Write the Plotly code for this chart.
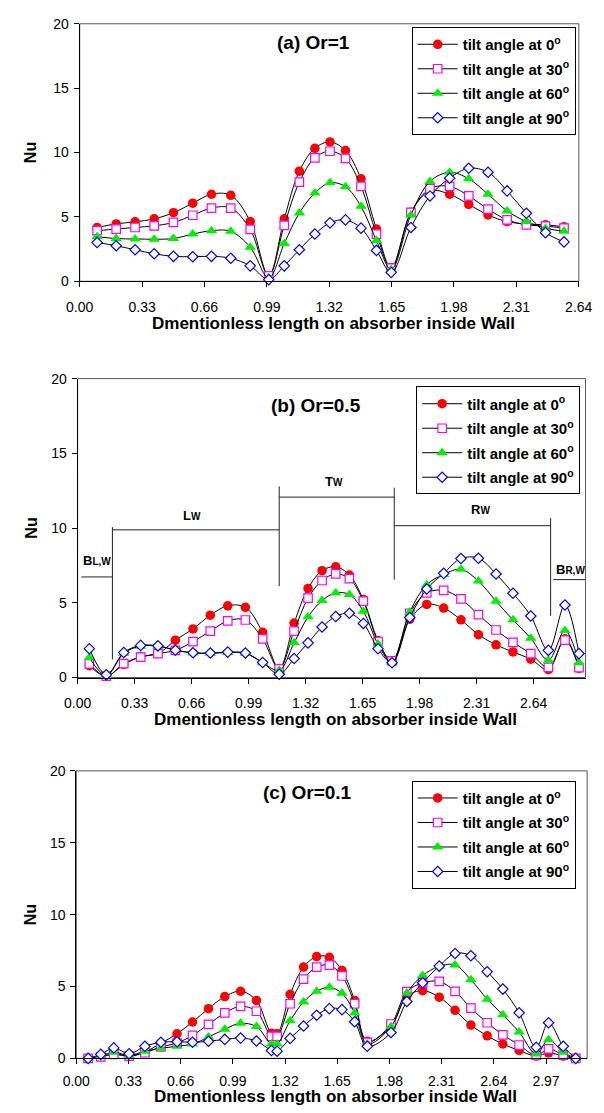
import plotly.graph_objects as go

# ---------------- data ----------------
tick_vals_a = [0, 0.33, 0.66, 0.99, 1.32, 1.65, 1.98, 2.31, 2.64]
tick_text_a = ["0.00", "0.33", "0.66", "0.99", "1.32", "1.65", "1.98", "2.31", "2.64"]
tick_vals_c = [0, 0.33, 0.66, 0.99, 1.32, 1.65, 1.98, 2.31, 2.64, 2.97]
tick_text_c = ["0.00", "0.33", "0.66", "0.99", "1.32", "1.65", "1.98", "2.31", "2.64", "2.97"]
y_ticks = [0, 5, 10, 15, 20]

series_names = ["tilt angle at 0<sup>o</sup>", "tilt angle at 30<sup>o</sup>",
                "tilt angle at 60<sup>o</sup>", "tilt angle at 90<sup>o</sup>"]

# (a) Or=1
x_a = [0.092, 0.193, 0.293, 0.394, 0.496, 0.598, 0.697, 0.799, 0.902, 1.0,
       1.082, 1.162, 1.244, 1.324, 1.406, 1.488, 1.57, 1.648,
       1.752, 1.853, 1.957, 2.058, 2.16, 2.261, 2.363, 2.464, 2.562]
a_0 = [4.18, 4.46, 4.62, 4.85, 5.33, 6.07, 6.76, 6.68, 4.64, 0.43,
       4.85, 8.55, 10.33, 10.82, 10.15, 7.96, 4.06, 1.07,
       5.36, 7.02, 6.76, 5.97, 5.15, 4.64, 4.45, 4.39, 4.23]
a_30 = [3.93, 4.06, 4.18, 4.31, 4.57, 5.13, 5.69, 5.69, 4.03, 0.43,
        4.34, 7.70, 9.59, 10.1, 9.54, 7.37, 3.67, 1.02,
        5.36, 7.19, 7.37, 6.63, 5.61, 4.77, 4.39, 4.29, 4.13]
a_60 = [3.47, 3.32, 3.29, 3.27, 3.32, 3.67, 3.93, 3.88, 2.65, 0.26,
        2.93, 5.31, 6.86, 7.65, 7.35, 5.82, 3.16, 0.92,
        5.15, 7.76, 8.47, 7.96, 6.76, 5.46, 4.64, 4.13, 3.88]
a_90 = [3.01, 2.76, 2.45, 2.14, 1.94, 1.91, 1.94, 1.79, 1.2, 0.13,
        1.2, 2.45, 3.67, 4.54, 4.77, 4.13, 2.40, 0.69,
        4.18, 6.63, 8.01, 8.78, 8.47, 7.02, 5.28, 3.78, 3.06]

# (b) Or=0.5
x_b = [0.068, 0.166, 0.267, 0.365, 0.465, 0.566, 0.668, 0.768, 0.869, 0.971, 1.071,
       1.167, 1.253, 1.334, 1.415, 1.494, 1.573, 1.654, 1.739, 1.82,
       1.923, 2.021, 2.119, 2.219, 2.32, 2.422, 2.52, 2.623, 2.725, 2.821, 2.902]
b_0 = [0.79, 0.09, 0.88, 1.4, 1.6, 2.5, 3.25, 4.17, 4.8, 4.7, 3.03,
       0.61, 3.64, 5.96, 7.15, 7.41, 6.86, 5.22, 2.48, 1.1,
       3.9, 4.89, 4.65, 3.86, 2.87, 2.19, 1.71, 1.23, 0.53, 2.59, 0.61]
b_30 = [0.92, 0.09, 0.93, 1.36, 1.6, 1.82, 2.4, 3.1, 3.79, 3.85, 2.59,
        0.57, 3.11, 5.31, 6.49, 6.93, 6.62, 5.11, 2.41, 1.12,
        4.3, 5.66, 5.83, 5.26, 4.21, 3.18, 2.35, 1.6, 0.68, 2.5, 0.66]
b_60 = [1.34, 0.13, 1.62, 2.1, 2.1, 1.84, 1.64, 1.62, 1.67, 1.62, 0.99,
        0.48, 2.32, 4.06, 5.15, 5.66, 5.55, 4.43, 2.24, 1.01,
        4.39, 6.21, 6.9, 7.24, 6.45, 5.11, 3.86, 2.63, 1.16, 3.14, 0.99]
b_90 = [1.93, 0.18, 1.67, 2.15, 2.12, 1.83, 1.66, 1.64, 1.7, 1.64, 1.01,
        0.22, 1.27, 2.32, 3.38, 4.08, 4.3, 3.62, 1.93, 0.99,
        4.01, 5.92, 6.97, 7.96, 7.98, 6.93, 5.64, 4.12, 1.82, 4.85, 1.6]

# (c) Or=0.1
x_c = [0.075, 0.155, 0.237, 0.334, 0.434, 0.535, 0.637, 0.735, 0.836, 0.939, 1.039, 1.139, 1.234,
       1.27, 1.352, 1.437, 1.52, 1.6, 1.68, 1.76, 1.84,
       1.99, 2.09, 2.19, 2.295, 2.395, 2.495, 2.598, 2.697, 2.8,
       2.908, 2.986, 3.079, 3.158]
c_0 = [0.0, 0.11, 0.34, 0.16, 0.45, 1.05, 1.71, 2.53, 3.46, 4.3, 4.67, 4.03, 1.75,
       1.72, 4.46, 6.35, 7.08, 7.03, 6.12, 4.03, 1.2,
       2.25, 4.32, 4.71, 4.26, 3.34, 2.32, 1.57, 1.0, 0.55,
       0.16, 0.39, 0.16, 0.0]
c_30 = [0.0, 0.11, 0.27, 0.16, 0.39, 0.8, 1.07, 1.6, 2.37, 3.16, 3.62, 3.28, 1.53,
        1.53, 3.8, 5.51, 6.35, 6.48, 5.73, 3.8, 1.12,
        2.39, 4.64, 5.25, 5.35, 4.66, 3.5, 2.48, 1.64, 0.93,
        0.2, 0.66, 0.23, 0.0]
c_60 = [0.0, 0.16, 0.43, 0.2, 0.5, 0.7, 0.84, 1.0, 1.48, 2.03, 2.44, 2.21, 1.0,
        1.0, 2.62, 3.92, 4.67, 4.94, 4.53, 3.16, 1.0,
        2.21, 4.55, 5.76, 6.4, 6.5, 5.47, 4.12, 3.03, 1.83,
        0.3, 1.3, 0.42, 0.0]
c_90 = [0.0, 0.28, 0.73, 0.32, 0.84, 1.12, 1.16, 1.12, 1.19, 1.32, 1.41, 1.21, 0.55,
        0.5, 1.39, 2.25, 3.0, 3.46, 3.39, 2.55, 0.84,
        1.8, 3.96, 5.26, 6.42, 7.3, 7.14, 6.03, 4.82, 3.17,
        0.77, 2.48, 0.84, 0.0]

# ---------------- styling ----------------
W, H = 604, 1113
FONT = "Arial, Liberation Sans, sans-serif"

def px(x):
    return x / W

def py(y):
    return 1 - y / H

marker_styles = [
    dict(symbol="circle", size=9.5, color="#FF0000", line=dict(width=0)),
    dict(symbol="square", size=8.5, color="white", line=dict(color="#FF00FF", width=1.2)),
    dict(symbol="triangle-up", size=10, color="#00EE00", line=dict(width=0)),
    dict(symbol="diamond", size=8, color="white", line=dict(color="#0000FF", width=1.2)),
]

fig = go.Figure()

panels = [
    (x_a, [a_0, a_30, a_60, a_90], "x", "y", "legend"),
    (x_b, [b_0, b_30, b_60, b_90], "x2", "y2", "legend2"),
    (x_c, [c_0, c_30, c_60, c_90], "x3", "y3", "legend3"),
]
for xs, ys_list, xa, ya, lg in panels:
    for i, ys in enumerate(ys_list):
        fig.add_trace(go.Scatter(
            x=xs, y=ys, mode="lines+markers", name=series_names[i],
            xaxis=xa, yaxis=ya, legend=lg, legendgroup=lg + str(i),
            line=dict(color="black", width=1, shape="spline", smoothing=1.0),
            marker=marker_styles[i], cliponaxis=False,
        ))

# panel geometry in pixels: (left, right, top, bottom)
geo = {
    "a": (68.9, 592.3, 16.0, 277.3),
    "b": (66.7, 599.3, 376.0, 679.3),
    "c": (65.3, 601.0, 774.0, 1065.7),
}

def xaxis_cfg(g, rng, tv, tt, anchor, standoff):
    return dict(domain=[px(g[0]), px(g[1])], range=rng, tickvals=tv, ticktext=tt,
                ticks="outside", ticklen=5, tickcolor="black", showgrid=False,
                zeroline=False, showline=True, linecolor="black", linewidth=1,
                ticklabelstandoff=standoff, ticklabeloverflow="allow",
                tickfont=dict(family=FONT, size=14, color="black"), anchor=anchor)

def yaxis_cfg(g, anchor):
    return dict(domain=[py(g[3]), py(g[2])], range=[0, 20], tickvals=y_ticks,
                ticks="outside", ticklen=5, tickcolor="black", showgrid=False,
                zeroline=False, showline=True, linecolor="black", linewidth=1,
                ticklabelstandoff=2,
                tickfont=dict(family=FONT, size=14, color="black"), anchor=anchor)

fig.update_layout(
    width=W, height=H, margin=dict(l=0, r=0, t=0, b=0),
    paper_bgcolor="white", plot_bgcolor="white",
    font=dict(family=FONT, color="black"),
    xaxis=xaxis_cfg(geo["a"], [0, 2.6405], tick_vals_a, tick_text_a, "y", 8),
    yaxis=yaxis_cfg(geo["a"], "x"),
    xaxis2=xaxis_cfg(geo["b"], [0, 2.94], tick_vals_a, tick_text_a, "y2", 8),
    yaxis2=yaxis_cfg(geo["b"], "x2"),
    xaxis3=xaxis_cfg(geo["c"], [0, 3.23], tick_vals_c, tick_text_c, "y3", 5),
    yaxis3=yaxis_cfg(geo["c"], "x3"),
)

legend_common = dict(bgcolor="white", bordercolor="black", borderwidth=1,
                     font=dict(family=FONT, size=15, color="black", weight="bold"),
                     xanchor="left", yanchor="top", tracegroupgap=2,
                     traceorder="grouped", itemwidth=40)
fig.update_layout(
    legend=dict(x=px(417), y=py(19.3), **legend_common),
    legend2=dict(x=px(421.7), y=py(384), **legend_common),
    legend3=dict(x=px(417), y=py(784), **legend_common),
)

# border rectangles (top/right in gray)
shapes = []
for xa, ya in [("x", "y"), ("x2", "y2"), ("x3", "y3")]:
    shapes.append(dict(type="rect", xref=xa + " domain", yref=ya + " domain",
                       x0=0, x1=1, y0=0, y1=1, line=dict(color="#555555", width=1),
                       layer="below"))

# bracket lines for panel (b) in data coordinates
br = [
    (0.2015, 1.21, 0.2015, 10.06),
    (0.2015, 9.88, 1.167, 9.88),
    (1.167, 6.11, 1.167, 12.79),
    (1.167, 12.07, 1.833, 12.07),
    (1.833, 6.55, 1.833, 12.70),
    (1.833, 10.16, 2.738, 10.16),
    (2.738, 4.13, 2.738, 10.66),
    (0.022, 6.73, 0.2015, 6.73),
    (2.753, 6.55, 2.94, 6.55),
]
for x0, y0, x1, y1 in br:
    shapes.append(dict(type="line", xref="x2", yref="y2", x0=x0, y0=y0, x1=x1, y1=y1,
                       line=dict(color="#222222", width=1)))
fig.update_layout(shapes=shapes)

ann = []
titles = [("(a) Or=1", 314, 35), ("(b) Or=0.5", 316.5, 403.3), ("(c) Or=0.1", 308, 796)]
for t, x, y in titles:
    ann.append(dict(text="<b>%s</b>" % t, x=px(x), y=py(y), xref="paper", yref="paper",
                    showarrow=False, font=dict(family=FONT, size=19, color="black"),
                    xanchor="center", yanchor="middle"))
for key, ty in [("a", 320), ("b", 721.7), ("c", 1104.5)]:
    g = geo[key]
    ann.append(dict(text="<b>Dmentionless length on absorber inside Wall</b>",
                    x=px((g[0] + g[1]) / 2 + 4), y=py(ty), xref="paper", yref="paper",
                    showarrow=False, font=dict(family=FONT, size=17, color="black"),
                    xanchor="center", yanchor="middle"))
    ann.append(dict(text="<b>Nu</b>", x=px(17.4), y=py((g[2] + g[3]) / 2),
                    xref="paper", yref="paper", showarrow=False, textangle=-90,
                    font=dict(family=FONT, size=16, color="black"),
                    xanchor="center", yanchor="middle"))

small = "<span style='font-size:10px'>%s</span>"
wall_labels = [
    ("<b>L" + small % "W" + "</b>", 0.661, 10.83),
    ("<b>T" + small % "W" + "</b>", 1.487, 13.1),
    ("<b>R" + small % "W" + "</b>", 2.331, 11.21),
    ("<b>B" + small % "L,W" + "</b>", 0.11, 7.8),
    ("<b>B" + small % "R,W" + "</b>", 2.854, 7.25),
]
for t, x, y in wall_labels:
    ann.append(dict(text=t, x=x, y=y, xref="x2", yref="y2", showarrow=False,
                    font=dict(family=FONT, size=13, color="black"),
                    xanchor="center", yanchor="middle"))
fig.update_layout(annotations=ann)

fig.write_html("out.html", config={"displayModeBar": False},
               post_script="document.body.style.margin='0px';")
